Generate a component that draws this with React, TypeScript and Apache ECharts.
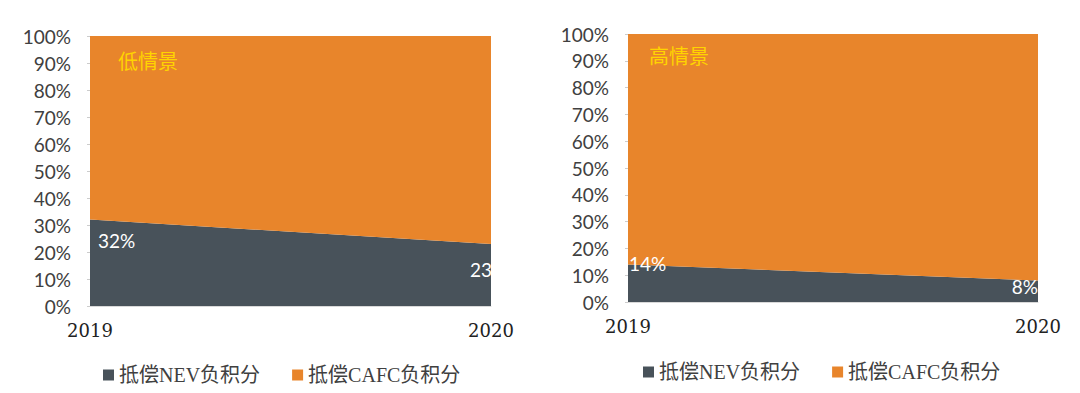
import React, { useEffect, useRef } from "react";
import * as echarts from "echarts";

const years = ["2019", "2020"];
const lowNEV = [32, 23];
const lowCAFC = [68, 77];
const highNEV = [14, 8];
const highCAFC = [86, 92];
const yTicks = [0, 10, 20, 30, 40, 50, 60, 70, 80, 90, 100];
const seriesNames = ["抵偿NEV负积分", "抵偿CAFC负积分"];
const titles = ["低情景", "高情景"];

const DARK = "#48525a";
const ORANGE = "#e8852b";

export default function App() {
  const ref = useRef<HTMLDivElement>(null);
  useEffect(() => {
    document.body.style.margin = "0";
    const chart = echarts.init(ref.current!, null, { renderer: "svg" });
    const grids = [
      { left: 90, right: 589, top: 36, bottom: 87 },
      { left: 628, right: 42, top: 34, bottom: 91 },
    ];
    const xAxis = grids.map((_, i) => ({
      type: "category",
      gridIndex: i,
      data: years,
      boundaryGap: false,
      axisLine: { show: true, lineStyle: { color: "#d9d9d9" } },
      axisTick: { show: false },
      axisLabel: {
        margin: 15,
        fontSize: 18,
        color: "#222",
        fontFamily: "DejaVu Serif, serif",
        interval: 0,
      },
    }));
    const yAxis = grids.map((_, i) => ({
      type: "value",
      gridIndex: i,
      min: yTicks[0],
      max: yTicks[yTicks.length - 1],
      interval: 10,
      axisLine: { show: false },
      axisTick: { show: true, length: 3, lineStyle: { color: "#cccccc" } },
      splitLine: { show: false },
      axisLabel: {
        margin: 19,
        fontSize: 19,
        color: "#404040",
        fontFamily: "Lato, sans-serif",
        formatter: "{value}%",
      },
    }));
    const labelBase = {
      show: true,
      color: "#ffffff",
      fontSize: 19,
      fontFamily: "Lato, sans-serif",
      distance: 0,
      formatter: "{c}%",
    };
    const mk = (
      name: string,
      vals: number[],
      color: string,
      idx: number,
      labels: any[] | null
    ) => ({
      name,
      type: "line",
      stack: "s" + idx,
      xAxisIndex: idx,
      yAxisIndex: idx,
      symbol: "circle",
      symbolSize: 0,
      showSymbol: true,
      itemStyle: { color },
      lineStyle: { width: 0, color },
      areaStyle: { color, opacity: 1 },
      label: { show: false },
      emphasis: { disabled: true },
      data: vals.map((v, j) =>
        labels ? { value: v, label: { ...labelBase, ...labels[j] } } : { value: v }
      ),
    });
    const titleStyle = { color: "#ffd400", fontSize: 20, fontWeight: "normal", fontFamily: "Noto Sans CJK SC" };
    const legendData = seriesNames.map((n, k) => ({ name: n, itemStyle: { color: k === 0 ? DARK : ORANGE } }));
    const legendBase = {
      data: legendData,
      icon: "rect",
      itemWidth: 11,
      itemHeight: 11,
      itemGap: 32,
      selectedMode: false,
      textStyle: { fontSize: 20, color: "#404040", fontFamily: "Liberation Serif, Noto Sans CJK SC" },
    };
    chart.setOption({
      animation: false,
      title: [
        { text: titles[0], left: 113, top: 45, textStyle: titleStyle },
        { text: titles[1], left: 644, top: 40, textStyle: titleStyle },
      ],
      legend: [
        { ...legendBase, left: 98, top: 360 },
        { ...legendBase, left: 638, top: 357 },
      ],
      grid: grids,
      xAxis,
      yAxis,
      series: [
        mk(seriesNames[0], lowNEV, DARK, 0, [
          { position: "right", offset: [8, 21] },
          { position: "right", offset: [-21, 26] },
        ]),
        mk(seriesNames[1], lowCAFC, ORANGE, 0, null),
        mk(seriesNames[0], highNEV, DARK, 1, [
          { position: "right", offset: [1, -1] },
          { position: "left", offset: [0, 6] },
        ]),
        mk(seriesNames[1], highCAFC, ORANGE, 1, null),
      ],
    });
    return () => chart.dispose();
  }, []);
  return <div ref={ref} style={{ width: 1080, height: 393 }} />;
}
